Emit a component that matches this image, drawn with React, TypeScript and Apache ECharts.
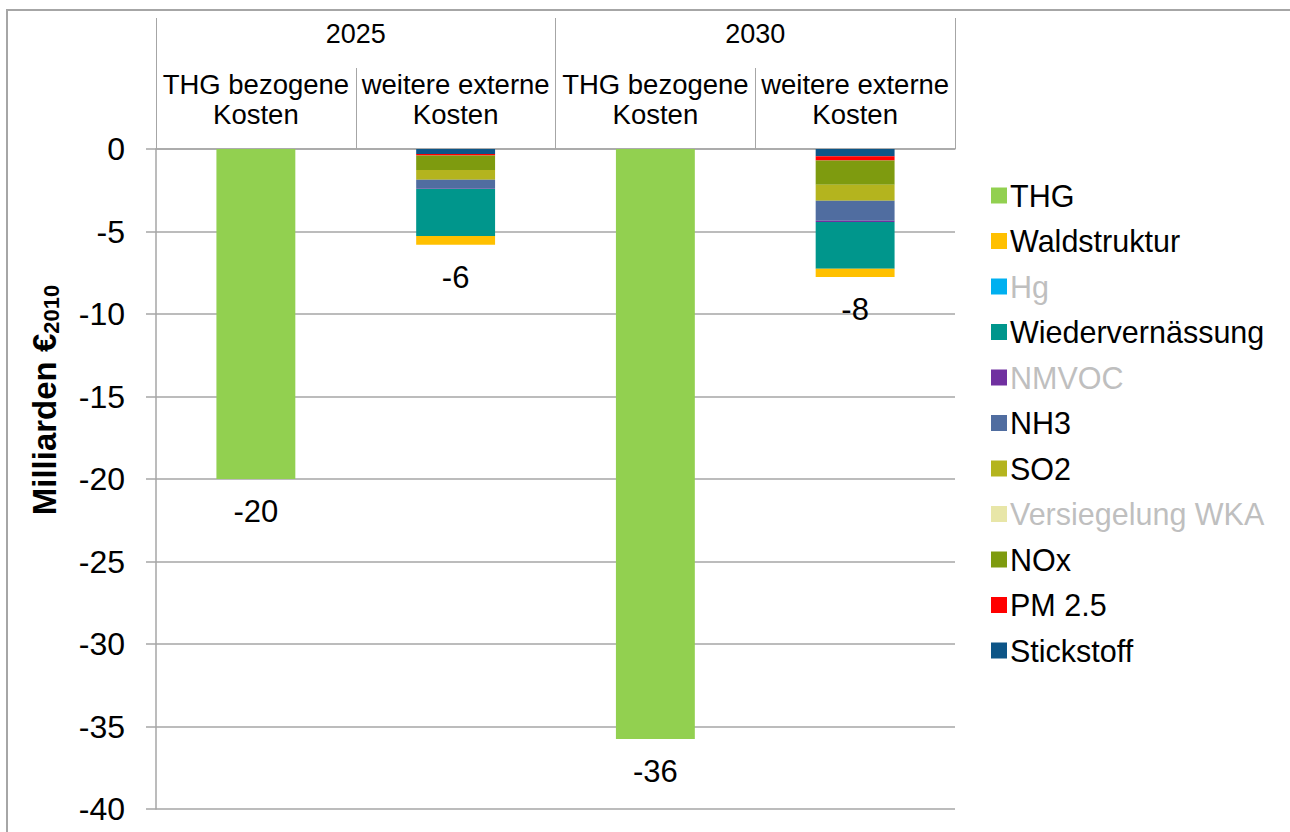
import React, { useEffect, useRef } from "react";
import * as echarts from "echarts";

const categories = [
  "THG bezogene\nKosten",
  "weitere externe\nKosten",
  "THG bezogene\nKosten",
  "weitere externe\nKosten",
];
const years = ["2025", "2030"];
const yTicks = { min: -40, max: 0, interval: 5 };

// values in Milliarden €2010 (stack order from zero downwards)
const stickstoff = [null, -0.3, null, -0.44];
const pm25 = [null, -0.1, null, -0.26];
const nox = [null, -0.87, null, -1.47];
const versiegelung = [null, 0, null, 0];
const so2 = [null, -0.59, null, -0.97];
const nh3 = [null, -0.55, null, -1.21];
const nmvoc = [null, -0.02, null, -0.08];
const wiedervernaessung = [null, -2.85, null, -2.83];
const hg = [null, 0, null, 0];
const waldstruktur = [null, -0.53, null, -0.5];
const thg = [-20.0, 0, -35.75, 0];

const seriesDefs = [
  { name: "Stickstoff", data: stickstoff, color: "#0D5587" },
  { name: "PM 2.5", data: pm25, color: "#FF0000" },
  { name: "NOx", data: nox, color: "#7E9B0F" },
  { name: "Versiegelung WKA", data: versiegelung, color: "#E8E6A8" },
  { name: "SO2", data: so2, color: "#B4B41E" },
  { name: "NH3", data: nh3, color: "#506DA0" },
  { name: "NMVOC", data: nmvoc, color: "#7030A0" },
  { name: "Wiedervernässung", data: wiedervernaessung, color: "#00968C" },
  { name: "Hg", data: hg, color: "#00B0F0" },
  { name: "Waldstruktur", data: waldstruktur, color: "#FFC000" },
  { name: "THG", data: thg, color: "#92D050" },
];

const legendOrder = [
  "THG",
  "Waldstruktur",
  "Hg",
  "Wiedervernässung",
  "NMVOC",
  "NH3",
  "SO2",
  "Versiegelung WKA",
  "NOx",
  "PM 2.5",
  "Stickstoff",
];
const greyedLegend = ["Hg", "NMVOC", "Versiegelung WKA"];

const totals = categories.map((_, i) =>
  seriesDefs.reduce((s, d) => s + (d.data[i] == null ? 0 : (d.data[i] as number)), 0)
);

const FONT = "'Liberation Sans', Arial, sans-serif";
const GRAY = "#A6A6A6";

export default function App() {
  const ref = useRef<HTMLDivElement>(null);
  useEffect(() => {
    if (!ref.current) return;
    const chart = echarts.init(ref.current, null, { renderer: "svg" });
    const series = seriesDefs.map((d) => {
      const s: any = {
        name: d.name,
        type: "bar",
        stack: "total",
        barWidth: "39.5%",
        data: d.data,
        itemStyle: { color: d.color },
        emphasis: { disabled: true },
      };
      if (d.name === "THG") {
        s.label = {
          show: true,
          position: "bottom",
          distance: 17,
          fontSize: 31,
          fontFamily: FONT,
          color: "#000",
          formatter: (p: any) => String(Math.round(totals[p.dataIndex])),
        };
      }
      return s;
    });
    chart.setOption({
      animation: false,
      backgroundColor: "#fff",
      textStyle: { fontFamily: FONT },
      grid: { left: 156, top: 149, right: 335, bottom: 23, containLabel: false },
      legend: {
        orient: "vertical",
        left: 986,
        top: 175,
        itemWidth: 16,
        itemHeight: 16,
        itemGap: 14.5,
        icon: "rect",
        selectedMode: false,
        textStyle: { fontSize: 30.5, lineHeight: 30, color: "#000", fontFamily: FONT, padding: [0, 0, 0, -2] },
        data: legendOrder.map((n) =>
          greyedLegend.includes(n) ? { name: n, textStyle: { color: "#BFBFBF" } } : { name: n }
        ),
      },
      xAxis: [
        {
          type: "category",
          position: "top",
          data: categories,
          axisLine: { show: true, lineStyle: { color: GRAY, width: 1.5 } },
          axisTick: { show: true, length: 81, interval: 0, lineStyle: { color: GRAY, width: 1 } },
          axisLabel: {
            interval: 0,
            fontSize: 27.5,
            lineHeight: 30,
            color: "#000",
            margin: 20,
            fontFamily: FONT,
          },
          splitLine: { show: false },
        },
        {
          type: "category",
          position: "top",
          data: years,
          axisLine: { show: false },
          axisTick: { show: true, length: 131, interval: 0, lineStyle: { color: GRAY, width: 1 } },
          axisLabel: { fontSize: 27, lineHeight: 30, color: "#000", margin: 100, fontFamily: FONT },
          splitLine: { show: false },
        },
      ],
      yAxis: {
        type: "value",
        min: yTicks.min,
        max: yTicks.max,
        interval: yTicks.interval,
        axisLine: { show: true, lineStyle: { color: GRAY, width: 1.5 } },
        axisTick: { show: true, length: 10, lineStyle: { color: GRAY, width: 1.5 } },
        axisLabel: { fontSize: 32, color: "#000", margin: 31, fontFamily: FONT },
        splitLine: { show: true, lineStyle: { color: GRAY, width: 1.5 } },
      },
      graphic: [
        {
          type: "rect",
          shape: { x: 7, y: 10, width: 1300, height: 840 },
          style: { fill: "none", stroke: GRAY, lineWidth: 2 },
          silent: true,
        },
        {
          type: "text",
          x: 44,
          y: 400,
          rotation: Math.PI / 2,
          style: {
            text: "{a|Milliarden €}{b|2010}",
            align: "center",
            verticalAlign: "middle",
            rich: {
              a: { fontSize: 33, fontWeight: "bold", fontFamily: FONT, lineHeight: 36, fill: "#000" },
              b: {
                fontSize: 22,
                fontWeight: "bold",
                fontFamily: FONT,
                lineHeight: 20,
                verticalAlign: "bottom",
                fill: "#000",
              },
            },
          },
        },
      ],
      series,
    });
    return () => chart.dispose();
  }, []);
  return (
    <div
      ref={ref}
      style={{ position: "fixed", left: 0, top: 0, width: 1290, height: 832, background: "#fff" }}
    />
  );
}
